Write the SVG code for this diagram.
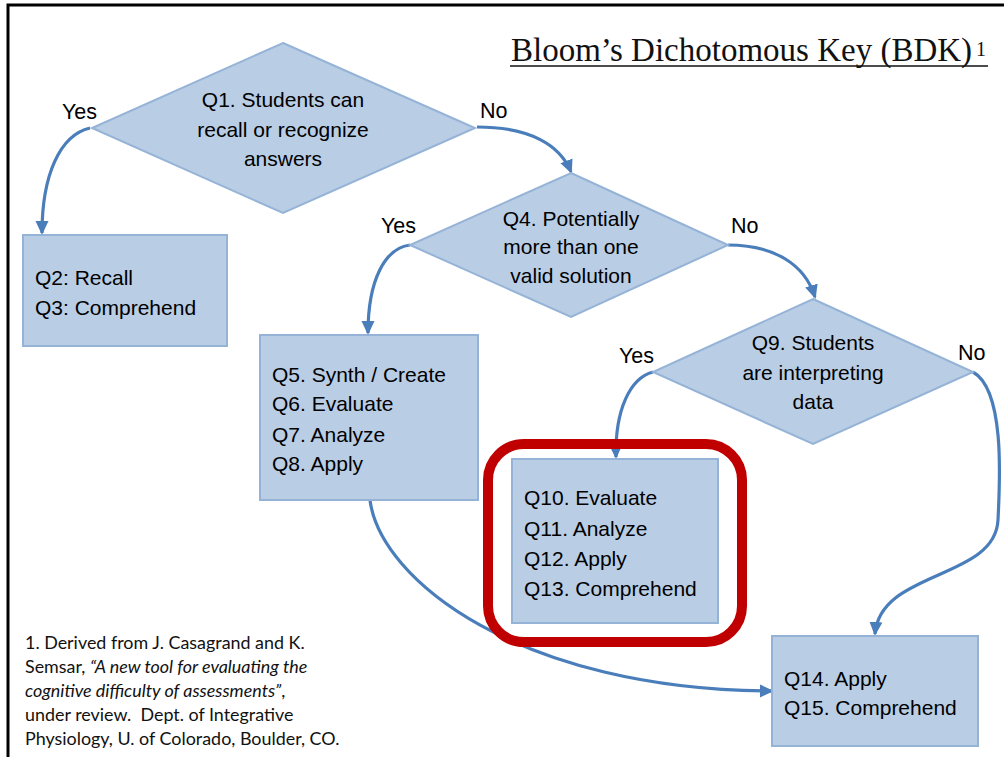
<svg xmlns="http://www.w3.org/2000/svg" width="1004" height="757" viewBox="0 0 1004 757">
<style>
.bg{fill:#ffffff}
.frame{stroke:#000;stroke-width:3;fill:none}
.shape{fill:#B9CDE5;stroke:#95B3D7;stroke-width:2}
.t{font-family:"Liberation Sans",Arial,sans-serif;font-size:21px;fill:#000}
.c{text-anchor:middle}
.lbl{font-family:"Liberation Sans",Arial,sans-serif;font-size:21.5px;fill:#000}
.title{font-family:"Liberation Serif","Times New Roman",serif;font-size:33px;fill:#111}
.foot{font-family:Lato,"Open Sans",sans-serif;font-size:17.9px;fill:#111}
.conn{fill:none;stroke:#4A7EBB;stroke-width:3.2}
.hl{fill:none;stroke:#C00000;stroke-width:10}
</style>
<defs>
<marker id="ah" markerUnits="userSpaceOnUse" markerWidth="16" markerHeight="16" refX="12" refY="8" orient="auto" viewBox="0 0 16 16">
<path d="M0,1.5 L14,8 L0,14.5 Z" fill="#4A7EBB"/>
</marker>
</defs>
<rect class="bg" x="0" y="0" width="1004" height="757"/>
<path class="frame" d="M8,770 L8,5 L1010,5"/>
<g id="title">
<text class="title" x="511" y="61">Bloom’s Dichotomous Key (BDK)</text>
<text class="title" x="976" y="56" style="font-size:20px">1</text>
<line x1="510" y1="66" x2="988" y2="66" stroke="#111" stroke-width="1.5"/>
</g>
<g id="connectors">
<path class="conn" marker-end="url(#ah)" d="M90,128 C60,135 42,175 42,233"/>
<path class="conn" marker-end="url(#ah)" d="M477,127 C530,127 560,145 571,172"/>
<path class="conn" marker-end="url(#ah)" d="M410,245 C385,248 368,280 368,333"/>
<path class="conn" marker-end="url(#ah)" d="M728,245 C775,245 805,265 815,297"/>
<path class="conn" marker-end="url(#ah)" d="M653,372 C630,378 615,410 616,457"/>
<path class="conn" marker-end="url(#ah)" d="M973,372 C1005,390 1000,480 998,520 C995,580 880,570 875,634"/>
<path class="conn" marker-end="url(#ah)" d="M370,500 C380,580 520,690 772,691"/>
</g>
<g id="q1">
<polygon class="shape" points="283,43 475,128 283,213 92,128"/>
<text class="t c" x="283" y="107">Q1. Students can</text>
<text class="t c" x="283" y="137">recall or recognize</text>
<text class="t c" x="283" y="166">answers</text>
</g>
<g id="q1-labels">
<text class="lbl" x="62" y="119">Yes</text>
<text class="lbl" x="480" y="118">No</text>
</g>
<g id="q2q3">
<rect class="shape" x="23" y="235" width="204" height="111"/>
<text class="t" x="35" y="285">Q2: Recall</text>
<text class="t" x="35" y="315">Q3: Comprehend</text>
</g>
<g id="q4">
<polygon class="shape" points="571,173 728,245 571,317 410,245"/>
<text class="t c" x="571" y="226">Q4. Potentially</text>
<text class="t c" x="571" y="254">more than one</text>
<text class="t c" x="571" y="283">valid solution</text>
</g>
<g id="q4-labels">
<text class="lbl" x="381" y="233">Yes</text>
<text class="lbl" x="731" y="233">No</text>
</g>
<g id="q5q8">
<rect class="shape" x="260" y="335" width="218" height="165"/>
<text class="t" x="272" y="382">Q5. Synth / Create</text>
<text class="t" x="272" y="411">Q6. Evaluate</text>
<text class="t" x="272" y="442">Q7. Analyze</text>
<text class="t" x="272" y="471">Q8. Apply</text>
</g>
<g id="q9">
<polygon class="shape" points="813,299 973,372 813,444 653,372"/>
<text class="t c" x="813" y="350">Q9. Students</text>
<text class="t c" x="813" y="380">are interpreting</text>
<text class="t c" x="813" y="409">data</text>
</g>
<g id="q9-labels">
<text class="lbl" x="619" y="363">Yes</text>
<text class="lbl" x="958" y="360">No</text>
</g>
<g id="q10q13">
<rect class="shape" x="512" y="459" width="206" height="164"/>
<text class="t" x="524" y="505">Q10. Evaluate</text>
<text class="t" x="524" y="536">Q11. Analyze</text>
<text class="t" x="524" y="566">Q12. Apply</text>
<text class="t" x="524" y="596">Q13. Comprehend</text>
</g>
<g id="highlight">
<rect class="hl" x="488" y="444" width="254" height="198" rx="36" ry="36"/>
</g>
<g id="q14q15">
<rect class="shape" x="772" y="636" width="206" height="110"/>
<text class="t" x="784" y="686">Q14. Apply</text>
<text class="t" x="784" y="715">Q15. Comprehend</text>
</g>
<g id="footnote">
<text class="foot" x="25" y="649">1. Derived from J. Casagrand and K.</text>
<text class="foot" x="25" y="673">Semsar, <tspan font-style="italic">“A new tool for evaluating the</tspan></text>
<text class="foot" x="25" y="697"><tspan font-style="italic">cognitive difficulty of assessments”</tspan>,</text>
<text class="foot" x="25" y="721">under review.&#160; Dept. of Integrative</text>
<text class="foot" x="25" y="745">Physiology, U. of Colorado, Boulder, CO.</text>
</g>
</svg>
